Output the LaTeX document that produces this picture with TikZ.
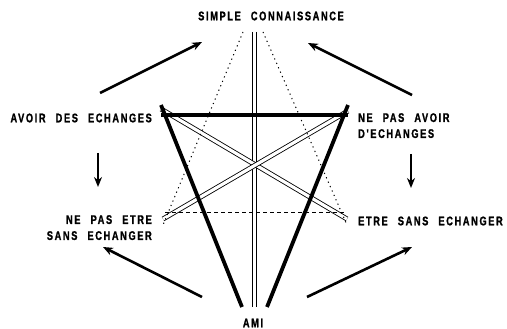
\documentclass[tikz,border=0pt]{standalone}
\usepackage{fontspec}
\newfontfamily\schemafont{Liberation Sans Bold}[FakeStretch=0.74, LetterSpace=13, WordSpace=2.4, FakeBold=1.2]
\usetikzlibrary{arrows.meta}
\begin{document}
\begin{tikzpicture}[x=1pt, y=-1pt, line cap=butt,
    label/.style={font=\schemafont\fontsize{12.5}{16}\selectfont, inner sep=0pt},
    gros/.style={line width=3.8pt},
    double trait/.style={double, double distance=3.2pt, line width=0.85pt},
    fin/.style={line width=0.9pt},
    pointille/.style={line width=1pt, dash pattern=on 1.2pt off 3.6pt},
    tirets/.style={line width=0.9pt, dash pattern=on 3.5pt off 3.5pt},
    fleche/.style={line width=2.6pt, -{Stealth[length=10pt, width=8pt]}}]
  \useasboundingbox (0,0) rectangle (507,329);
  % les six positions
  \node[label] (sc) at (271,16) {SIMPLE CONNAISSANCE};
  \node[label, anchor=east] (ade) at (152,118) {AVOIR DES ECHANGES};
  \node[label, anchor=north west, align=left] (npa) at (358,113) {NE PAS AVOIR\\D'ECHANGES};
  \node[label, anchor=north east, align=right] (npe) at (152,215) {NE PAS ETRE\\SANS ECHANGER};
  \node[label, anchor=west] (ese) at (358,221) {ETRE SANS ECHANGER};
  \node[label] (ami) at (253,323) {AMI};
  % les sommets du dessin
  \coordinate (h-g) at (161,115);
  \coordinate (h-d) at (348,115);
  \coordinate (b-g) at (163,219);
  \coordinate (b-d) at (347,219);
  \coordinate (haut) at (254,32);
  \coordinate (bas) at (254,307);
  % les traits doubles, dessous
  \draw[fin] ([xshift=-2]haut) -- ([xshift=-2]bas);
  \draw[fin] ([xshift=2]haut) -- ([xshift=2]bas);
  \draw[double trait] ([yshift=6]h-g) -- (b-d);
  \draw[double trait] ([yshift=4]h-d) -- (b-g);
  % pointilles et tirets
  \draw[pointille] ([xshift=-11]haut) -- ([yshift=-6]b-g);
  \draw[pointille] ([xshift=9]haut) -- ([yshift=-6]b-d);
  \draw[tirets] ([yshift=7,xshift=2]b-g) -- ([yshift=7]b-d);
  % le triangle en trait gros, dessus
  \draw[gros] (h-g) -- (h-d);
  \draw[gros] ([yshift=10]h-g) -- ([xshift=-12]bas);
  \draw[gros] ([yshift=10]h-d) -- ([xshift=13]bas);
  % les fleches
  \foreach \a/\b/\c/\d in {100/93/202/42, 412/95/308/43, 98/153/98/187,
                           411/154/411/188, 202/297/103/247, 307/297/412/247} {
    \draw[fleche] (\a,\b) -- (\c,\d);
  }
\end{tikzpicture}
\end{document}
